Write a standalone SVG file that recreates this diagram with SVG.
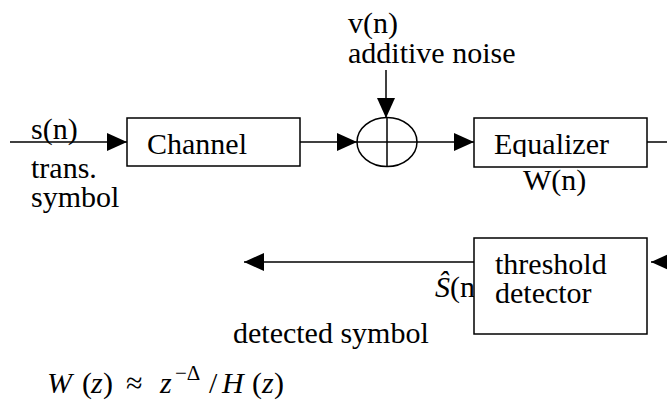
<svg xmlns="http://www.w3.org/2000/svg" width="667" height="401" viewBox="0 0 667 401">
<defs>
<marker id="ah" markerUnits="userSpaceOnUse" markerWidth="20" markerHeight="18" refX="20" refY="9" orient="auto">
<path d="M0,0 L20,9 L0,18 z" fill="#000"/>
</marker>
<clipPath id="eqclip"><rect x="474" y="118" width="173" height="39"/></clipPath>
<clipPath id="wclip"><rect x="500" y="167" width="120" height="40"/></clipPath>
</defs>
<g id="connectors" fill="none" stroke="#000" stroke-width="1.5">
<line x1="10" y1="142" x2="127" y2="142" marker-end="url(#ah)"/>
<line x1="300" y1="142" x2="357" y2="142" marker-end="url(#ah)"/>
<line x1="386" y1="70" x2="386" y2="118" marker-end="url(#ah)"/>
<line x1="417" y1="142" x2="474" y2="142" marker-end="url(#ah)"/>
<line x1="647" y1="142" x2="667" y2="142"/>
<line x1="667" y1="262" x2="651" y2="262" marker-end="url(#ah)"/>
<line x1="474" y1="262" x2="244" y2="262" marker-end="url(#ah)"/>
</g>
<g id="input-labels">
<text x="31" y="139" style="font-family:'Times New Roman',Tinos,serif;font-size:30px">s(n)</text>
<text x="31" y="178" style="font-family:'Times New Roman',Tinos,serif;font-size:30px">trans.</text>
<text x="31" y="207" style="font-family:'Times New Roman',Tinos,serif;font-size:30px">symbol</text>
</g>
<g id="channel">
<rect x="127" y="118" width="173" height="48" fill="#fff" stroke="#000" stroke-width="1.5"/>
<text x="147" y="154" style="font-family:'Times New Roman',Tinos,serif;font-size:30px">Channel</text>
</g>
<g id="adder" fill="none" stroke="#000" stroke-width="1.5">
<ellipse cx="387" cy="142" rx="30" ry="24.5"/>
<line x1="357" y1="142" x2="417" y2="142"/>
<line x1="387" y1="117.5" x2="387" y2="166.5"/>
</g>
<g id="noise-label">
<text x="348" y="33" style="font-family:'Times New Roman',Tinos,serif;font-size:30px">v(n)</text>
<text x="348" y="63" style="font-family:'Times New Roman',Tinos,serif;font-size:30px">additive noise</text>
</g>
<g id="equalizer">
<g clip-path="url(#wclip)"><text x="523" y="190" style="font-family:'Times New Roman',Tinos,serif;font-size:30px">W(n)</text></g>
<rect x="474" y="118" width="173" height="49" fill="#fff" stroke="#000" stroke-width="1.5"/>
<g clip-path="url(#eqclip)"><text x="494" y="154" style="font-family:'Times New Roman',Tinos,serif;font-size:30px">Equalizer</text></g>
</g>
<g id="estimate-label">
<text x="435" y="297" style="font-family:'Times New Roman',Tinos,serif;font-size:30px"><tspan style="font-style:italic">Ŝ</tspan>(n)</text>
</g>
<g id="threshold-detector">
<rect x="474" y="238" width="173" height="96" fill="#fff" stroke="#000" stroke-width="1.5"/>
<text x="495" y="274" style="font-family:'Times New Roman',Tinos,serif;font-size:30px">threshold</text>
<text x="495" y="303" style="font-family:'Times New Roman',Tinos,serif;font-size:30px">detector</text>
</g>
<g id="output-label">
<text x="233" y="343" style="font-family:'Times New Roman',Tinos,serif;font-size:30px">detected symbol</text>
</g>
<g id="formula">
<text x="47" y="393" style="font-family:'Times New Roman',Tinos,serif;font-size:30px;font-style:italic">W</text>
<text x="82" y="393" style="font-family:'Times New Roman',Tinos,serif;font-size:30px">(</text>
<text x="91" y="393" style="font-family:'Times New Roman',Tinos,serif;font-size:30px;font-style:italic">z</text>
<text x="103" y="393" style="font-family:'Times New Roman',Tinos,serif;font-size:30px">)</text>
<text x="126" y="393" style="font-family:'Times New Roman',Tinos,serif;font-size:30px">≈</text>
<text x="160" y="393" style="font-family:'Times New Roman',Tinos,serif;font-size:30px;font-style:italic">z</text>
<text x="175" y="380" style="font-family:'Times New Roman',Tinos,serif;font-size:21px">−Δ</text>
<text x="209" y="393" style="font-family:'Times New Roman',Tinos,serif;font-size:30px">/</text>
<text x="222" y="393" style="font-family:'Times New Roman',Tinos,serif;font-size:30px;font-style:italic">H</text>
<text x="252" y="393" style="font-family:'Times New Roman',Tinos,serif;font-size:30px">(</text>
<text x="262" y="393" style="font-family:'Times New Roman',Tinos,serif;font-size:30px;font-style:italic">z</text>
<text x="274" y="393" style="font-family:'Times New Roman',Tinos,serif;font-size:30px">)</text>
</g>
</svg>
